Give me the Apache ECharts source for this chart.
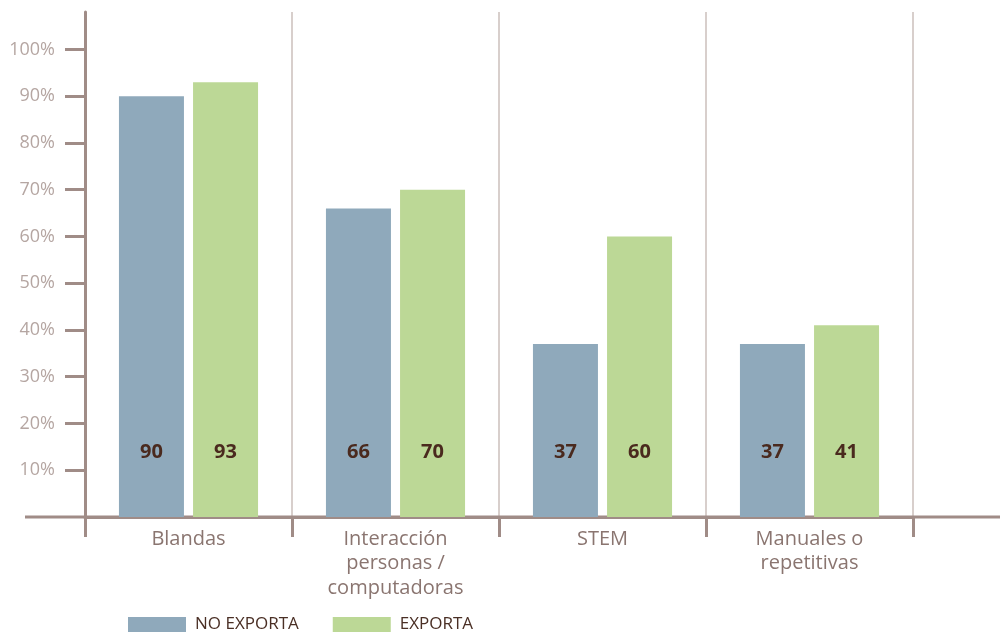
<!DOCTYPE html>
<html style="height: 100%">

<head>
    <meta charset="UTF-8" />
    <script type="text/javascript" src="https://cdn.jsdelivr.net/npm/echarts@6.0.0/dist/echarts.min.js"></script>
</head>

<body style="height: 100%; margin: 0">
    <div id="container" style="width: 1002px; height: 633px"></div>
    <script>
        var categories = ['Blandas', 'Interacción\npersonas /\ncomputadoras', 'STEM', 'Manuales o\nrepetitivas'];
        var noExporta = [90, 66, 37, 37];
        var exporta = [93, 70, 60, 41];
        var yTicks = [10, 20, 30, 40, 50, 60, 70, 80, 90, 100];

        var axisColor = '#a08c87';
        var font = '"Open Sans", sans-serif';

        var dom = document.getElementById("container");
        var chart = echarts.init(dom);

        function barLabel() {
            return {
                show: true,
                position: 'insideBottom',
                distance: 55,
                fontSize: 20,
                fontWeight: 'bold',
                fontFamily: font,
                color: '#4a2a1e'
            };
        }

        var option = {
            animation: false,
            grid: { left: 85, right: 89, top: 12, bottom: 116 },
            legend: {
                left: 123,
                top: 611,
                itemWidth: 58,
                itemHeight: 15,
                itemGap: 34,
                icon: 'rect',
                textStyle: { fontSize: 17, fontFamily: font, color: '#4a2f25', padding: [0, 0, 0, 4] },
                data: ['NO EXPORTA', 'EXPORTA']
            },
            xAxis: {
                type: 'category',
                data: categories,
                boundaryGap: true,
                axisLine: { lineStyle: { color: axisColor, width: 3 } },
                axisTick: { show: true, length: 20, lineStyle: { color: axisColor, width: 3 } },
                splitLine: { show: true, interval: 0, lineStyle: { color: '#cbbfbb', width: 1.5 } },
                axisLabel: {
                    interval: 0,
                    margin: 10,
                    fontSize: 20,
                    lineHeight: 24.5,
                    fontFamily: font,
                    color: '#8a7570'
                }
            },
            yAxis: {
                type: 'value',
                min: 0,
                max: 108,
                axisLine: { show: true, lineStyle: { color: axisColor, width: 3 } },
                axisTick: { show: true, length: 20, customValues: yTicks, lineStyle: { color: axisColor, width: 3 } },
                splitLine: { show: false },
                axisLabel: {
                    customValues: yTicks,
                    margin: 30,
                    formatter: '{value}%',
                    fontSize: 18,
                    fontFamily: font,
                    color: '#b5a6a2'
                }
            },
            graphic: [
                {
                    type: 'line',
                    shape: { x1: 25, y1: 517, x2: 1000, y2: 517 },
                    style: { stroke: axisColor, lineWidth: 3 },
                    z: 1
                }
            ],
            series: [
                {
                    name: 'NO EXPORTA',
                    type: 'bar',
                    data: noExporta,
                    barWidth: 65,
                    barGap: '14%',
                    itemStyle: { color: '#8fa9bb' },
                    label: barLabel()
                },
                {
                    name: 'EXPORTA',
                    type: 'bar',
                    data: exporta,
                    barWidth: 65,
                    itemStyle: { color: '#bcd896' },
                    label: barLabel()
                }
            ]
        };

        chart.setOption(option);
    </script>
</body>

</html>
